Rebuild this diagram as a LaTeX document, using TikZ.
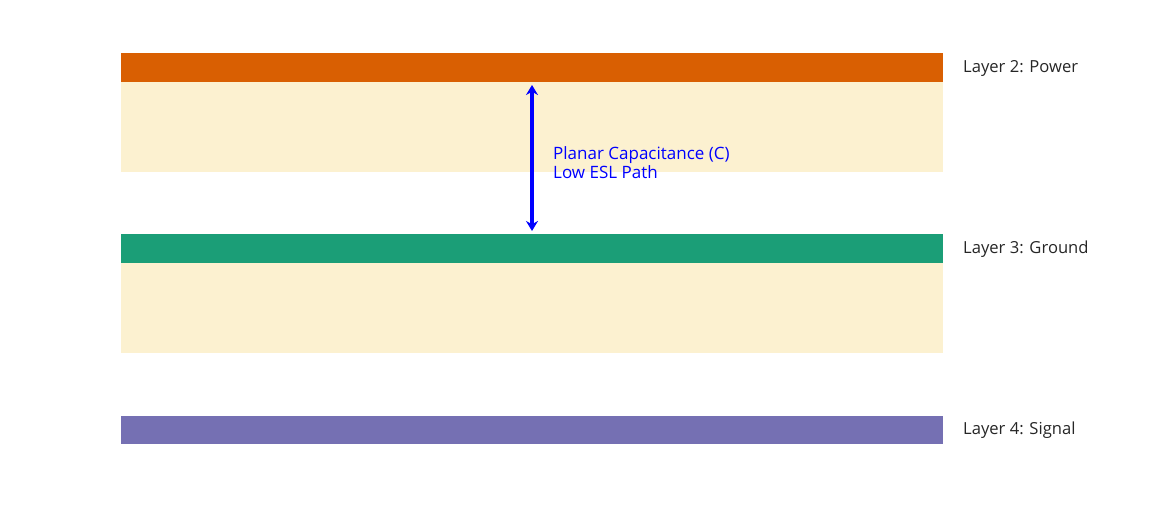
\documentclass[tikz,border=0pt]{standalone}
\usepackage{fontspec}
\setmainfont{Open Sans}
\usetikzlibrary{arrows.meta}
\definecolor{powerc}{HTML}{D95F02}
\definecolor{groundc}{HTML}{1B9E77}
\definecolor{signalc}{HTML}{7570B3}
\definecolor{creamc}{HTML}{FCF1D0}
\definecolor{arrowc}{HTML}{0000FF}
\tikzset{
  layer/.style={fill=#1, draw=none},
  lbl/.style={anchor=west, font=\fontsize{16.6}{19}\selectfont, text=black!85, inner sep=0pt},
  note/.style={anchor=west, align=left, font=\fontsize{17}{19}\selectfont, text=arrowc, inner sep=0pt},
  dbl/.style={arrowc, line width=3.2pt, {Stealth[length=10pt,width=12pt]}-{Stealth[length=10pt,width=12pt]}}
}
\begin{document}
\begin{tikzpicture}[x=1pt,y=-1pt]
\useasboundingbox (0,0) rectangle (1160,508);
% dielectric
\fill[creamc] (121,82) rectangle (943,172);
\fill[creamc] (121,263) rectangle (943,353);
% copper layers
\fill[layer=powerc] (121,53) rectangle (943,82);
\fill[layer=groundc] (121,234) rectangle (943,263);
\fill[layer=signalc] (121,416) rectangle (943,444);
\coordinate (ptop) at (532,85);
\coordinate (pbot) at (532,231);
\draw[dbl] (ptop) -- (pbot);
\node[note] (cap) at (553,163) {Planar Capacitance (C)\\Low ESL Path};
\node[lbl] (l2) at (963,68) {Layer 2: Power};
\node[lbl] (l3) at (963,249) {Layer 3: Ground};
\node[lbl] (l4) at (963,430) {Layer 4: Signal};
\end{tikzpicture}
\end{document}
